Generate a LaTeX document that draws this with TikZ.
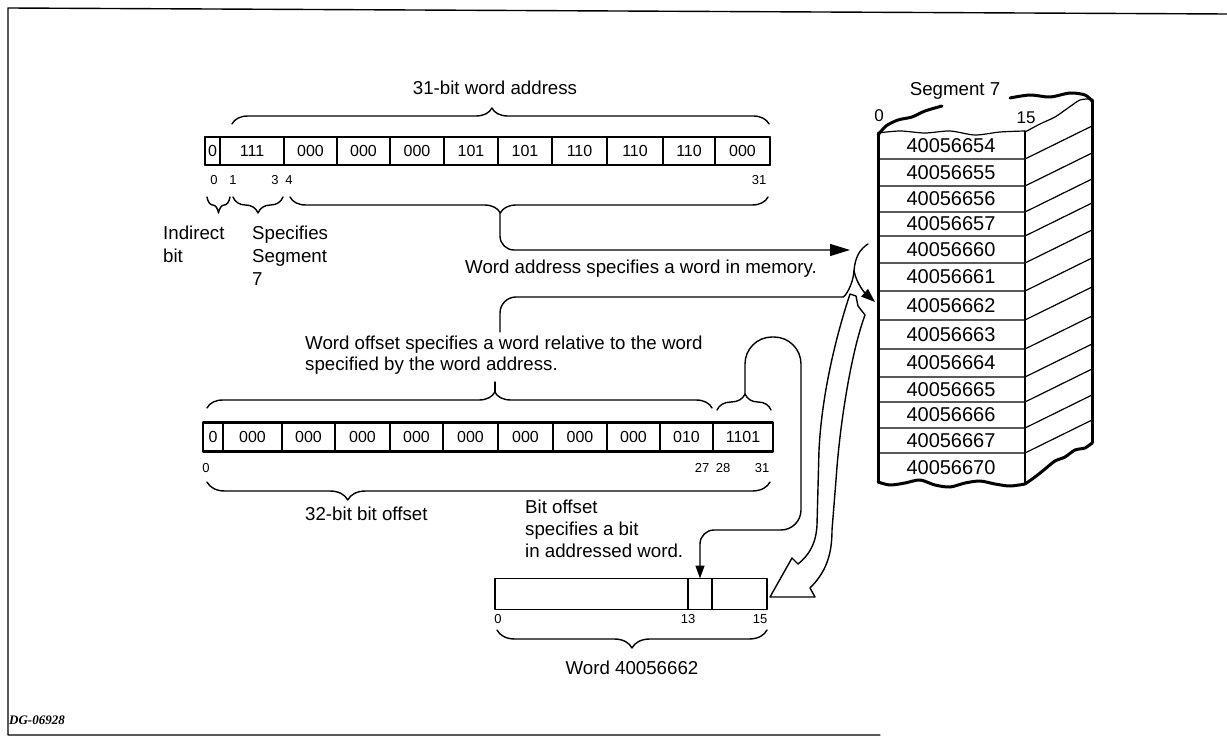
\documentclass[tikz,border=0pt]{standalone}
\usepackage{fontspec}
\setmainfont{Liberation Sans}
\newfontfamily\dgfont{Liberation Serif}
\usetikzlibrary{decorations.pathreplacing,arrows.meta}
\tikzset{
  conn/.style={line width=1.4pt},
  thickreg/.style={line width=2.6pt},
  cellline/.style={line width=1.1pt},
  thinline/.style={line width=1.2pt},
  heavy/.style={line width=3pt},
  txt/.style={font=\fontsize{18.7}{21}\selectfont, inner sep=0pt},
  celltxt/.style={font=\fontsize{16}{18}\selectfont, inner sep=0pt},
  num/.style={font=\fontsize{13}{15}\selectfont, inner sep=0pt},
  rowtxt/.style={font=\fontsize{20}{22}\selectfont, inner sep=0pt},
  brc/.style args={#1/#2}{decorate, decoration={brace, amplitude=#1, aspect=#2}, conn},
}
\begin{document}
\begin{tikzpicture}[x=1pt,y=-1pt, line join=round, line cap=round]
\useasboundingbox (0,0) rectangle (1227,738);

% frame
\draw[line width=1.4pt] (1227,14) -- (8,8) -- (8,735) -- (880,735);
\node[font=\dgfont\bfseries\itshape\fontsize{13}{15}\selectfont, inner sep=0pt, anchor=west] (dg) at (9,720) {DG-06928};

% ---------- top register ----------
\foreach \a/\b/\t [count=\i, evaluate=\b as \w using \b-\a] in
  {205/220/0,220/284/111,284/337/000,337/390/000,390/444/000,444/498/101,498/552/101,552/607/110,607/663/110,663/715/110,715/770/000}
  \node[draw, cellline, celltxt, minimum width=\w pt, minimum height=28pt, anchor=west, outer sep=0pt] (ta\i) at (\a,151) {\t};
\draw[thickreg] (ta1.north west) rectangle (ta11.south east);

\node[txt] (t31) at (495,88) {31-bit word address};
\draw[brc=16pt/0.484] (232,124) -- (769,124);

\node[num, anchor=base] (n0) at (214,185) {0};
\node[num, anchor=base] (n1) at (233,185) {1};
\node[num, anchor=base] (n3) at (275,185) {3};
\node[num, anchor=base] (n4) at (289,185) {4};
\node[num, anchor=base] (n31) at (759,185) {31};

\draw[brc=16pt/0.5] (230,197) -- (207,197);
\draw[brc=16pt/0.5] (283,197) -- (233,197);
\draw[brc=16pt/0.56] (768,197) -- (290,197);

\node[txt, anchor=base west] (ind1) at (163,240) {Indirect};
\node[txt, anchor=base west] (ind2) at (163,263) {bit};
\node[txt, anchor=base west] (sp1) at (252,240) {Specifies};
\node[txt, anchor=base west] (sp2) at (252,263) {Segment};
\node[txt, anchor=base west] (sp3) at (252,286) {7};

\node[txt, anchor=base west] (wam) at (465,273) {Word address specifies a word in memory.};

% ---------- lower register ----------
\foreach \a/\b/\t [count=\i, evaluate=\b as \w using \b-\a] in
  {203/223/0,223/282/000,282/335/000,335/390/000,390/443/000,443/498/000,498/553/000,553/607/000,607/660/000,660/713/010,713/773/1101}
  \node[draw, cellline, celltxt, minimum width=\w pt, minimum height=29pt, anchor=west, outer sep=0pt] (tb\i) at (\a,437) {\t};
\draw[thickreg] (tb1.north west) rectangle (tb11.south east);

\node[txt, anchor=base west] (wo1) at (305,349) {Word offset specifies a word relative to the word};
\node[txt, anchor=base west] (wo2) at (305,370) {specified by the word address.};

\draw[brc=16pt/0.57] (207,408) -- (712,408);
\draw[brc=16pt/0.52] (717,410) -- (771,410);

\node[num, anchor=base] (m0) at (206,472) {0};
\node[num, anchor=base] (m27) at (702,472) {27};
\node[num, anchor=base] (m28) at (723,472) {28};
\node[num, anchor=base] (m31) at (762,472) {31};

\draw[brc=18pt/0.75] (770,482) -- (207,482);
\node[txt, anchor=base west] (bbo) at (305,520) {32-bit bit offset};

\node[txt, anchor=base west] (bo1) at (525,513) {Bit offset};
\node[txt, anchor=base west] (bo2) at (525,535) {specifies a bit};
\node[txt, anchor=base west] (bo3) at (525,557) {in addressed word.};

% ---------- word box ----------
\foreach \a/\b [count=\i, evaluate=\b as \w using \b-\a] in {495/688,688/712,712/767}
  \node[draw, line width=1.6pt, minimum width=\w pt, minimum height=31pt, anchor=west, outer sep=0pt] (wb\i) at (\a,594) {};
\node[num, anchor=base] (w0) at (498,623) {0};
\node[num, anchor=base] (w13) at (688,623) {13};
\node[num, anchor=base] (w15) at (760,623) {15};
\draw[brc=18pt/0.5] (767,630) -- (497,630);
\node[txt, anchor=base] (wlab) at (632,674) {Word 40056662};

% ---------- segment 7 ----------
\node[txt, anchor=base] (seglab) at (955,96) {Segment 7};
\node[font=\fontsize{17}{19}\selectfont, inner sep=0pt] (s0) at (879,116) {0};
\node[font=\fontsize{17}{19}\selectfont, inner sep=0pt] (s15) at (1026,118) {15};

\foreach \t/\y [count=\i] in {40056654/146,40056655/172.5,40056656/199,40056657/224,40056660/249.5,40056661/277,40056662/305.5,40056663/334.5,40056664/363,40056665/389.5,40056666/415,40056667/440.5,40056670/468}
  \node[rowtxt] (r\i) at (951,\y) {\t};

\foreach \d in {159,186,212,236,263,291,320,349,377,402,428,453}
  \draw[thinline] (878,\d) -- (1025,\d) -- (1092,{\d-33});

\draw[thinline] plot[smooth] coordinates {(878,133) (900,131) (925,133) (950,131) (975,135) (1000,132) (1025,131)};
\draw[heavy] plot[smooth] coordinates {(878,135) (886,126) (898,120) (912,117) (925,111) (942,106)};
\draw[heavy] plot[smooth] coordinates {(1010,98) (1030,95) (1050,97) (1070,93) (1085,95) (1092,101)};
\draw[thinline] plot[smooth] coordinates {(1025,132) (1040,124) (1055,117) (1068,108) (1080,100) (1090,99)};
\draw[heavy] (1092,100) -- (1092,443);
\draw[heavy] plot[smooth] coordinates {(1092,443) (1085,448) (1075,450) (1065,457) (1055,461) (1045,469) (1035,477) (1025,484)};
\draw[heavy] plot[smooth] coordinates {(878,482) (890,485) (905,483) (920,480) (935,485) (950,487) (965,483) (980,481) (995,484) (1010,486) (1025,484)};
\draw[heavy] (878,133) -- (878,482);
\draw[thinline] (1025,131) -- (1025,484);

% ---------- connectors ----------
\coordinate (waTip) at (500,213);
\coordinate (segIn) at (850,250);
\coordinate (woTop) at (500,332);
\coordinate (join) at (854,271);
\coordinate (joinTop) at (868,244);
\coordinate (seg662) at (875,302);
\coordinate (woTip) at (495,392);
\coordinate (woStub) at (495,382);
\coordinate (boTip) at (745,394);

\draw[conn, rounded corners=14pt, -{Triangle[length=20pt,width=12pt]}] (waTip) |- (segIn);
\draw[conn, rounded corners=16pt] (woTop) |- (827,297) .. controls (845,297) and (853,285) .. (join);
\draw[conn] (join) .. controls (855,257) and (860,249) .. (joinTop);
\draw[conn, -{Triangle[length=14pt,width=10pt]}] (join) .. controls (857,285) and (866,294) .. (seg662);
\draw[conn] (woTip) -- (woStub);
\draw[conn, -{Triangle[length=13pt,width=9pt]}] (boTip) [rounded corners=27pt] -- (745,337) -- (801,337) [rounded corners=20pt] -- (801,530) [rounded corners=14pt] -- (700,530) -- (wb2.north);

% hollow return arrow
\draw[conn] (850,294) .. controls (838,330) and (822,390) .. (819,450) -- (817,525)
  .. controls (816,545) and (808,556) .. (798,564) -- (792,558) -- (770,597) -- (815,597) -- (810,588)
  .. controls (826,572) and (832,555) .. (832,530) -- (836,480)
  .. controls (840,420) and (852,350) .. (865,315) -- (858,306) -- (856,296) -- cycle;

\end{tikzpicture}
\end{document}
